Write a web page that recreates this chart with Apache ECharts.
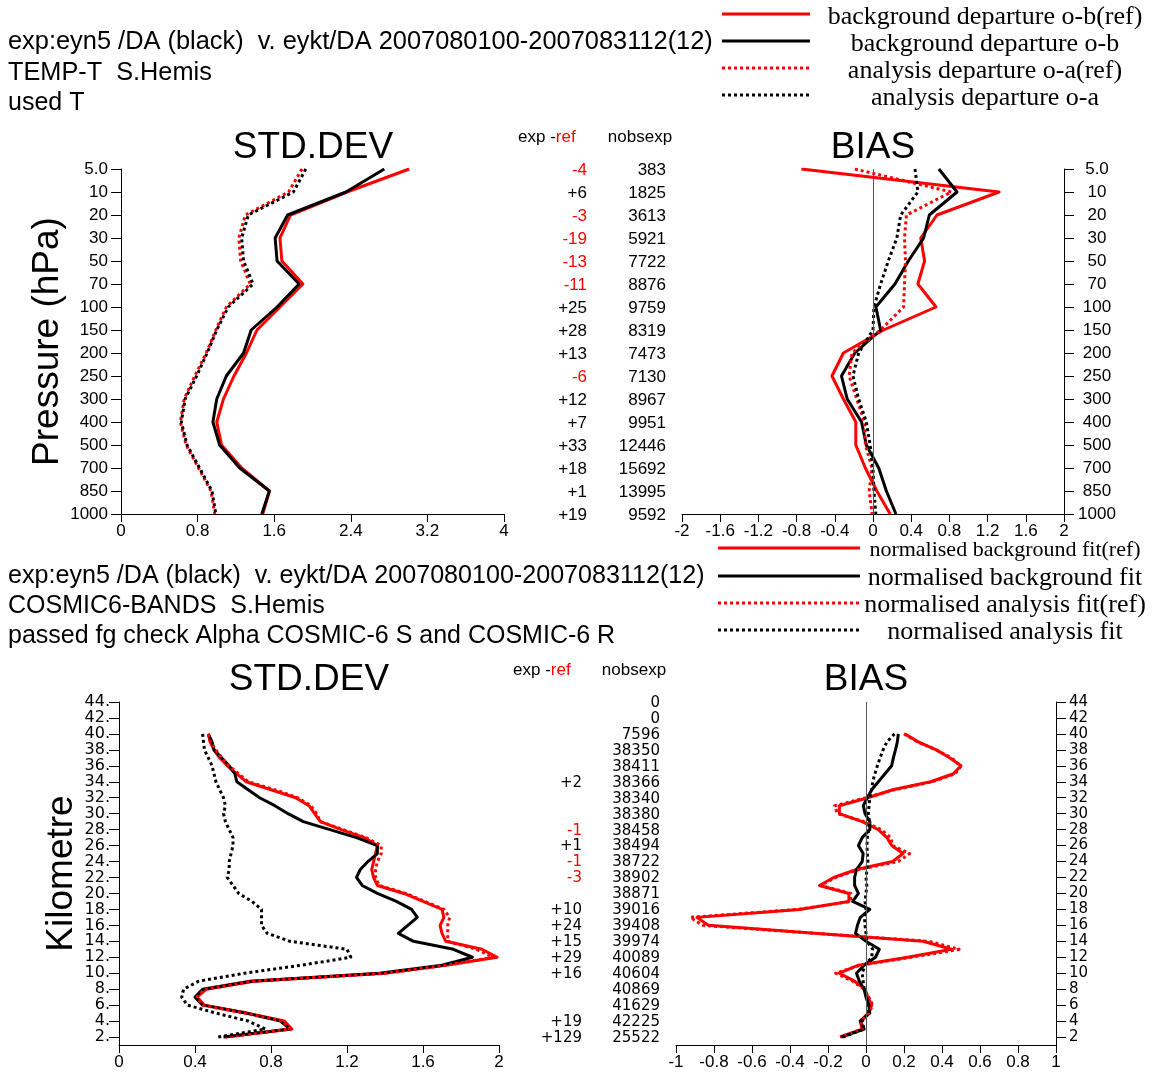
<!DOCTYPE html>
<html>
<head>
<meta charset="utf-8">
<script src="https://cdn.jsdelivr.net/npm/echarts@6/dist/echarts.min.js"></script>
<style>
html, body { margin: 0; padding: 0; background: #fff; }
#main { width: 1152px; height: 1074px; }
</style>
</head>
<body>
<div id="main"></div>
<script>
// ---- TEMP-T panel (pressure levels, top to bottom) ----
var levels = ['5.0', '10', '20', '30', '50', '70', '100', '150', '200', '250', '300', '400', '500', '700', '850', '1000'];
var tempSdObRef = [3.01, 2.36, 1.77, 1.66, 1.68, 1.90, 1.66, 1.42, 1.31, 1.18, 1.07, 1.00, 1.05, 1.26, 1.55, 1.48];
var tempSdOb    = [2.75, 2.35, 1.74, 1.61, 1.63, 1.86, 1.63, 1.36, 1.28, 1.10, 1.00, 0.96, 1.03, 1.24, 1.55, 1.47];
var tempSdOaRef = [1.89, 1.75, 1.30, 1.23, 1.25, 1.35, 1.10, 0.99, 0.89, 0.77, 0.66, 0.62, 0.68, 0.81, 0.94, 0.98];
var tempSdOa    = [1.93, 1.80, 1.33, 1.26, 1.28, 1.38, 1.12, 1.00, 0.90, 0.79, 0.67, 0.63, 0.69, 0.82, 0.95, 0.99];
var tempBiasObRef = [-0.75, 1.32, 0.67, 0.50, 0.54, 0.47, 0.66, 0.11, -0.31, -0.43, -0.31, -0.18, -0.18, -0.08, 0.04, 0.18];
var tempBiasOb    = [0.69, 0.88, 0.59, 0.53, 0.37, 0.23, 0.03, 0.08, -0.19, -0.33, -0.27, -0.12, -0.07, 0.06, 0.14, 0.24];
var tempBiasOaRef = [-0.19, 0.82, 0.35, 0.33, 0.34, 0.33, 0.32, 0.08, -0.22, -0.25, -0.17, -0.09, -0.08, -0.01, -0.04, -0.01];
var tempBiasOa    = [0.44, 0.47, 0.29, 0.25, 0.16, 0.08, 0.01, 0.00, -0.15, -0.21, -0.15, -0.07, -0.03, 0.00, 0.01, 0.03];
var tempDiff = ['-4', '+6', '-3', '-19', '-13', '-11', '+25', '+28', '+13', '-6', '+12', '+7', '+33', '+18', '+1', '+19'];
var tempNobs = [383, 1825, 3613, 5921, 7722, 8876, 9759, 8319, 7473, 7130, 8967, 9951, 12446, 15692, 13995, 9592];

// ---- COSMIC-6 panel (km, 40 down to 2) ----
var kmLevels = [40, 39, 38, 37, 36, 35, 34, 33, 32, 31, 30, 29, 28, 27, 26, 25, 24, 23, 22, 21,
                20, 19, 18, 17, 16, 15, 14, 13, 12, 11, 10, 9, 8, 7, 6, 5, 4, 3, 2];
var gpsSdObRef = [0.47, 0.48, 0.50, 0.53, 0.57, 0.62, 0.67, 0.80, 0.93, 1.00, 1.03, 1.06, 1.17, 1.29, 1.36, 1.35, 1.34, 1.33, 1.34, 1.36,
                  1.50, 1.60, 1.70, 1.71, 1.69, 1.70, 1.72, 1.91, 1.99, 1.72, 1.40, 0.71, 0.46, 0.41, 0.45, 0.67, 0.87, 0.91, 0.56];
var gpsSdOb    = [0.47, 0.49, 0.50, 0.54, 0.58, 0.61, 0.62, 0.68, 0.74, 0.82, 0.89, 0.97, 1.11, 1.25, 1.36, 1.36, 1.31, 1.27, 1.25, 1.28,
                  1.36, 1.46, 1.54, 1.57, 1.52, 1.47, 1.55, 1.76, 1.86, 1.70, 1.37, 0.69, 0.44, 0.40, 0.44, 0.67, 0.85, 0.90, 0.55];
var gpsSdOaRef = [0.47, 0.48, 0.51, 0.54, 0.58, 0.63, 0.68, 0.82, 0.94, 1.01, 1.04, 1.06, 1.18, 1.30, 1.38, 1.38, 1.36, 1.35, 1.35, 1.37,
                  1.51, 1.61, 1.71, 1.74, 1.73, 1.73, 1.73, 1.88, 1.97, 1.72, 1.40, 0.70, 0.45, 0.41, 0.44, 0.66, 0.86, 0.90, 0.56];
var gpsSdOa    = [0.44, 0.445, 0.45, 0.47, 0.49, 0.50, 0.51, 0.53, 0.55, 0.56, 0.55, 0.56, 0.58, 0.60, 0.60, 0.59, 0.58, 0.58, 0.57, 0.60,
                  0.63, 0.70, 0.75, 0.75, 0.75, 0.78, 0.90, 1.20, 1.22, 0.96, 0.66, 0.42, 0.34, 0.33, 0.36, 0.51, 0.68, 0.77, 0.52];
var gpsBiasObRef = [0.205, 0.275, 0.37, 0.44, 0.50, 0.46, 0.34, 0.14, 0.01, -0.14, -0.14, -0.02, 0.065, 0.11, 0.135, 0.195, 0.14, -0.05, -0.17, -0.245,
                    -0.09, -0.09, -0.35, -0.89, -0.83, -0.27, 0.30, 0.45, 0.22, -0.04, -0.14, -0.06, -0.005, 0.01, 0.03, 0.012, -0.03, -0.02, -0.137];
var gpsBiasOb    = [0.17, 0.165, 0.155, 0.144, 0.135, 0.10, 0.065, 0.03, 0.007, -0.014, -0.005, 0.02, 0.02, -0.02, -0.04, -0.015, -0.02, -0.05, -0.06, -0.06,
                    -0.04, -0.07, 0.02, -0.03, -0.045, -0.055, 0.0, 0.07, 0.05, -0.01, -0.05, -0.035, -0.01, 0.0, 0.015, 0.02, -0.03, -0.01, -0.13];
var gpsBiasOaRef = [0.20, 0.27, 0.37, 0.45, 0.50, 0.47, 0.35, 0.15, 0.0, -0.165, -0.15, -0.01, 0.08, 0.13, 0.14, 0.23, 0.17, -0.04, -0.16, -0.24,
                    -0.08, -0.08, -0.36, -0.925, -0.86, -0.27, 0.33, 0.49, 0.24, -0.03, -0.16, -0.07, -0.01, 0.015, 0.035, 0.015, -0.025, -0.02, -0.13];
var gpsBiasOa    = [0.15, 0.11, 0.09, 0.074, 0.06, 0.047, 0.035, 0.03, 0.02, 0.016, 0.012, 0.018, 0.015, 0.007, 0.005, 0.007, 0.01, 0.005, 0.0, 0.004,
                    0.0, -0.005, 0.0, -0.008, -0.005, 0.0, 0.005, 0.035, 0.03, -0.005, -0.02, -0.015, -0.01, 0.005, 0.01, 0.015, -0.02, -0.01, -0.12];
var kmRows = [44, 42, 40, 38, 36, 34, 32, 30, 28, 26, 24, 22, 20, 18, 16, 14, 12, 10, 8, 6, 4, 2];
var gpsDiff = ['', '', '', '', '', '+2', '', '', '-1', '+1', '-1', '-3', '', '+10', '+24', '+15', '+29', '+16', '', '', '+19', '+129'];
var gpsNobs = [0, 0, 7596, 38350, 38411, 38366, 38340, 38380, 38458, 38494, 38722, 38902, 38871, 39016, 39408, 39974, 40089, 40604, 40869, 41629, 42225, 25522];

var RED = '#ff0000', BLACK = '#000000';
var SANS = '"Liberation Sans", Arial, sans-serif';
var SERIF = '"Liberation Serif", "Times New Roman", serif';
var DEJA = '"DejaVu Sans", sans-serif';

var chart = echarts.init(document.getElementById('main'));

function lineSeries(name, yCats, vals, color, dotted, idx) {
    return {
        name: name, type: 'line', xAxisIndex: idx, yAxisIndex: idx,
        data: yCats.map(function (c, i) { return [vals[i], c]; }),
        symbol: 'none', showSymbol: false, silent: true, animation: false,
        lineStyle: { color: color, width: 3, type: dotted ? [3, 3] : 'solid', join: 'round', cap: 'butt' }
    };
}

function zeroLine() {
    return {
        silent: true, symbol: ['none', 'none'], animation: false,
        label: { show: false },
        lineStyle: { color: '#555', width: 1, type: 'solid' },
        data: [{ xAxis: 0 }]
    };
}

function xAxisCfg(idx, min, max, step, fontFamily, fontSize) {
    return {
        gridIndex: idx, type: 'value', min: min, max: max, interval: step,
        axisLine: { show: true, onZero: false, lineStyle: { color: BLACK, width: 1 } },
        axisTick: { show: true, length: 8, lineStyle: { color: BLACK } },
        axisLabel: { color: BLACK, fontFamily: fontFamily, fontSize: fontSize, margin: 9 },
        splitLine: { show: false }
    };
}

var evenKm = [];
for (var k = 2; k <= 44; k += 2) evenKm.push(k);

var tempIdx = levels.map(function (l, i) { return i; });

var option = {
    backgroundColor: '#fff',
    animation: false,
    grid: [
        { left: 121, top: 169, width: 383, height: 345 },
        { left: 682, top: 169, width: 382, height: 345 },
        { left: 119, top: 702, width: 380, height: 343 },
        { left: 676, top: 702, width: 380, height: 343 }
    ],
    xAxis: [
        xAxisCfg(0, 0, 4, 0.8, SANS, 17),
        xAxisCfg(1, -2, 2, 0.4, SANS, 17),
        xAxisCfg(2, 0, 2, 0.4, SANS, 17),
        xAxisCfg(3, -1, 1, 0.2, SANS, 17)
    ],
    yAxis: [
        {
            gridIndex: 0, type: 'category', data: levels, inverse: true, boundaryGap: false,
            axisLine: { show: true, onZero: false, lineStyle: { color: BLACK } },
            axisTick: { show: true, length: 10, interval: 0, lineStyle: { color: BLACK } },
            axisLabel: { interval: 0, color: BLACK, fontFamily: SANS, fontSize: 17, margin: 13 },
            name: 'Pressure (hPa)', nameLocation: 'middle', nameRotate: 90, nameGap: 49,
            nameTextStyle: { color: BLACK, fontFamily: SANS, fontSize: 37 }
        },
        {
            gridIndex: 1, type: 'category', data: levels, inverse: true, boundaryGap: false, position: 'right',
            axisLine: { show: true, onZero: false, lineStyle: { color: BLACK } },
            axisTick: { show: true, length: 10, interval: 0, lineStyle: { color: BLACK } },
            axisLabel: { interval: 0, color: BLACK, fontFamily: SANS, fontSize: 17, margin: 33, align: 'center' }
        },
        {
            gridIndex: 2, type: 'value', min: 1, max: 44,
            axisLine: { show: true, onZero: false, lineStyle: { color: BLACK } },
            axisTick: { show: true, length: 10, customValues: evenKm, lineStyle: { color: BLACK } },
            axisLabel: { customValues: evenKm, color: BLACK, fontFamily: DEJA, fontSize: 16, margin: 9,
                formatter: function (v) { return v + '.'; } },
            splitLine: { show: false },
            name: 'Kilometre', nameLocation: 'middle', nameRotate: 90, nameGap: 37,
            nameTextStyle: { color: BLACK, fontFamily: SANS, fontSize: 37 }
        },
        {
            gridIndex: 3, type: 'value', min: 1, max: 44, position: 'right',
            axisLine: { show: true, onZero: false, lineStyle: { color: BLACK } },
            axisTick: { show: true, length: 10, customValues: evenKm, lineStyle: { color: BLACK } },
            axisLabel: { customValues: evenKm, color: BLACK, fontFamily: DEJA, fontSize: 15, margin: 13 },
            splitLine: { show: false }
        }
    ],
    series: [
        lineSeries('background departure o-b(ref)', tempIdx, tempSdObRef, RED, false, 0),
        lineSeries('background departure o-b', tempIdx, tempSdOb, BLACK, false, 0),
        lineSeries('analysis departure o-a(ref)', tempIdx, tempSdOaRef, RED, true, 0),
        lineSeries('analysis departure o-a', tempIdx, tempSdOa, BLACK, true, 0),
        Object.assign(lineSeries('background departure o-b(ref)', tempIdx, tempBiasObRef, RED, false, 1), { markLine: zeroLine() }),
        lineSeries('background departure o-b', tempIdx, tempBiasOb, BLACK, false, 1),
        lineSeries('analysis departure o-a(ref)', tempIdx, tempBiasOaRef, RED, true, 1),
        lineSeries('analysis departure o-a', tempIdx, tempBiasOa, BLACK, true, 1),
        lineSeries('normalised background fit(ref)', kmLevels, gpsSdObRef, RED, false, 2),
        lineSeries('normalised background fit', kmLevels, gpsSdOb, BLACK, false, 2),
        lineSeries('normalised analysis fit(ref)', kmLevels, gpsSdOaRef, RED, true, 2),
        lineSeries('normalised analysis fit', kmLevels, gpsSdOa, BLACK, true, 2),
        Object.assign(lineSeries('normalised background fit(ref)', kmLevels, gpsBiasObRef, RED, false, 3), { markLine: zeroLine() }),
        lineSeries('normalised background fit', kmLevels, gpsBiasOb, BLACK, false, 3),
        lineSeries('normalised analysis fit(ref)', kmLevels, gpsBiasOaRef, RED, true, 3),
        lineSeries('normalised analysis fit', kmLevels, gpsBiasOa, BLACK, true, 3)
    ]
};
chart.setOption(option);

// text helpers
function txt(s, x, y, font, color, align) {
    return {
        type: 'text', silent: true, z: 100,
        style: {
            text: s, x: x, y: y, font: font, fill: color || BLACK,
            textAlign: align || 'left', align: align || 'left',
            textVerticalAlign: 'middle', verticalAlign: 'middle'
        }
    };
}
function seg(x1, x2, y, color, dotted) {
    return {
        type: 'line', silent: true, z: 100,
        shape: { x1: x1, y1: y, x2: x2, y2: y },
        style: { stroke: color, lineWidth: 3, lineDash: dotted ? [3, 3] : null }
    };
}
var measureCtx = document.createElement('canvas').getContext('2d');
function textW(s, font) { measureCtx.font = font; return measureCtx.measureText(s).width; }

var g = [];
// headers
g.push(txt('exp:eyn5 /DA (black)  v. eykt/DA 2007080100-2007083112(12)', 8, 42, '25.4px ' + SANS));
g.push(txt('TEMP-T  S.Hemis', 8, 73, '25.3px ' + SANS));
g.push(txt('used T', 8, 103, '25px ' + SANS));
g.push(txt('exp:eyn5 /DA (black)  v. eykt/DA 2007080100-2007083112(12)', 8, 576, '25.1px ' + SANS));
g.push(txt('COSMIC6-BANDS  S.Hemis', 8, 606, '25px ' + SANS));
g.push(txt('passed fg check Alpha COSMIC-6 S and COSMIC-6 R', 8, 636, '25px ' + SANS));

// legends
var topLeg = [['background departure o-b(ref)', RED, false, 14, 17],
              ['background departure o-b', BLACK, false, 41, 44],
              ['analysis departure o-a(ref)', RED, true, 68, 71],
              ['analysis departure o-a', BLACK, true, 95, 98]];
topLeg.forEach(function (l) {
    g.push(seg(722, 810, l[3], l[1], l[2]));
    g.push(txt(l[0], 985, l[4], '26px ' + SERIF, BLACK, 'center'));
});
var botLeg = [['normalised background fit(ref)', RED, false, 548, 550, 22],
              ['normalised background fit', BLACK, false, 576, 578, 26],
              ['normalised analysis fit(ref)', RED, true, 603, 605, 26],
              ['normalised analysis fit', BLACK, true, 630, 632, 26]];
botLeg.forEach(function (l) {
    g.push(seg(718, 860, l[3], l[1], l[2]));
    g.push(txt(l[0], 1005, l[4], l[5] + 'px ' + SERIF, BLACK, 'center'));
});

// titles
var titleFont = '37px ' + SANS;
g.push(txt('STD.DEV', 313, 148, titleFont, BLACK, 'center'));
g.push(txt('BIAS', 873, 148, titleFont, BLACK, 'center'));
g.push(txt('STD.DEV', 309, 680, titleFont, BLACK, 'center'));
g.push(txt('BIAS', 866, 680, titleFont, BLACK, 'center'));

// column headers
var colFont = '17px ' + SANS;
function colHeader(xLeft, y, nobsCenter) {
    var w = textW('exp -', colFont);
    g.push(txt('exp -', xLeft, y, colFont));
    g.push(txt('ref', xLeft + w, y, colFont, RED));
    g.push(txt('nobsexp', nobsCenter, y, colFont, BLACK, 'center'));
}
colHeader(518, 137, 640);
colHeader(513, 670, 634);

// per-level columns
tempIdx.forEach(function (i) {
    var y = chart.convertToPixel({ yAxisIndex: 0 }, i) + 1;
    var d = tempDiff[i];
    g.push(txt(d, 587, y, '17px ' + SANS, d.charAt(0) === '-' ? RED : BLACK, 'right'));
    g.push(txt(String(tempNobs[i]), 666, y, '17px ' + SANS, BLACK, 'right'));
});
kmRows.forEach(function (km, i) {
    var y = chart.convertToPixel({ yAxisIndex: 2 }, km) + 1;
    var d = gpsDiff[i];
    if (d) g.push(txt(d, 582, y, '15px ' + DEJA, d.charAt(0) === '-' ? RED : BLACK, 'right'));
    g.push(txt(String(gpsNobs[i]), 660, y, '15px ' + DEJA, BLACK, 'right'));
});

chart.setOption({ graphic: g });
</script>
</body>
</html>
